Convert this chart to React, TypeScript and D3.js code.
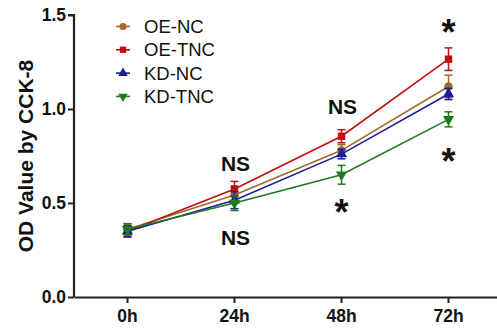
import React, { useEffect, useRef } from 'react';
import * as d3 from 'd3';

// chart values
const times = ['0h', '24h', '48h', '72h'];
const seriesNames = ['OE-NC', 'OE-TNC', 'KD-NC', 'KD-TNC'];
const oeNc = [0.36, 0.543, 0.78, 1.12];
const oeNcErr = [0.03, 0.04, 0.03, 0.06];
const oeTnc = [0.35, 0.575, 0.855, 1.265];
const oeTncErr = [0.03, 0.04, 0.035, 0.06];
const kdNc = [0.35, 0.515, 0.76, 1.08];
const kdNcErr = [0.03, 0.045, 0.025, 0.03];
const kdTnc = [0.36, 0.5, 0.65, 0.945];
const kdTncErr = [0.03, 0.04, 0.05, 0.04];
const yTicks = [0, 0.5, 1.0, 1.5];
const notes = [
  { time: '24h', value: 0.709, text: 'NS' },
  { time: '24h', value: 0.316, text: 'NS' },
  { time: '48h', value: 1.012, text: 'NS' },
  { time: '48h', value: 0.487, text: '*' },
  { time: '72h', value: 1.449, text: '*' },
  { time: '72h', value: 0.763, text: '*' },
];

const colors = ['#A3692A', '#BE1010', '#1C1C9C', '#1F7A1F'];
const shapes = [d3.symbolCircle, d3.symbolSquare, d3.symbolTriangle, d3.symbolTriangle];

const W = 497;
const H = 331;
const margin = { top: 15, right: -5, bottom: 34, left: 74 };
const font = '"Liberation Sans", Arial, sans-serif';

export default function App() {
  const ref = useRef<SVGSVGElement>(null);

  useEffect(() => {
    const svg = d3.select(ref.current);
    svg.selectAll('*').remove();

    const x = d3
      .scaleBand()
      .domain(times)
      .range([margin.left, W - margin.right]);
    const y = d3
      .scaleLinear()
      .domain([0, 1.5])
      .range([H - margin.bottom, margin.top]);
    const cx = (t: string) => (x(t) as number) + x.bandwidth() / 2;

    const values = [oeNc, oeTnc, kdNc, kdTnc];
    const errs = [oeNcErr, oeTncErr, kdNcErr, kdTncErr];

    // series: line, error bars, markers
    values.forEach((vals, si) => {
      const g = svg.append('g');
      const line = d3
        .line<number>()
        .x((_, i) => cx(times[i]))
        .y(d => y(d));
      g.append('path')
        .attr('d', line(vals))
        .attr('fill', 'none')
        .attr('stroke', colors[si])
        .attr('stroke-width', 1.6);

      vals.forEach((v, i) => {
        const px = cx(times[i]);
        const e = errs[si][i];
        g.append('line')
          .attr('x1', px).attr('x2', px)
          .attr('y1', y(v - e)).attr('y2', y(v + e))
          .attr('stroke', colors[si]).attr('stroke-width', 1.5);
        [v - e, v + e].forEach(c => {
          g.append('line')
            .attr('x1', px - 4).attr('x2', px + 4)
            .attr('y1', y(c)).attr('y2', y(c))
            .attr('stroke', colors[si]).attr('stroke-width', 1.5);
        });
        g.append('path')
          .attr('d', d3.symbol(shapes[si], 55)())
          .attr('transform', `translate(${px},${y(v)})${si === 3 ? ' rotate(180)' : ''}`)
          .attr('fill', colors[si]);
      });
    });

    // axes
    const yAxis = svg
      .append('g')
      .attr('transform', `translate(${margin.left},0)`)
      .call(d3.axisLeft(y).tickValues(yTicks).tickSize(6).tickFormat(d3.format('.1f')));
    const xAxis = svg
      .append('g')
      .attr('transform', `translate(0,${H - margin.bottom})`)
      .call(d3.axisBottom(x).tickSize(6).tickSizeOuter(0));
    [xAxis, yAxis].forEach(a => {
      a.select('.domain').attr('stroke', '#222').attr('stroke-width', 2.2);
      a.selectAll('.tick line').attr('stroke', '#222').attr('stroke-width', 2);
      a.selectAll('.tick text')
        .attr('fill', '#111')
        .style('font-family', font)
        .style('font-weight', 'bold')
        .style('font-size', '17.5px');
    });
    yAxis.select('.domain').attr('d', `M-6,${y(1.5)}H0V${y(0)}`);
    yAxis.selectAll('.tick text').attr('x', -8);
    xAxis.selectAll('.tick text').attr('y', 13);

    svg.append('text')
      .attr('transform', `translate(33,${(y(0) + y(1.5)) / 2}) rotate(-90)`)
      .attr('text-anchor', 'middle')
      .attr('fill', '#111')
      .style('font-family', font)
      .style('font-weight', 'bold')
      .style('font-size', '21px')
      .text('OD Value by CCK-8');

    // legend
    seriesNames.forEach((name, i) => {
      const ly = 26.5 + i * 23.3;
      const lg = svg.append('g').attr('transform', `translate(123,${ly})`);
      lg.append('line').attr('x1', -7).attr('x2', 7).attr('stroke', colors[i]).attr('stroke-width', 1.6);
      lg.append('path')
        .attr('d', d3.symbol(shapes[i], 40)())
        .attr('transform', i === 3 ? 'rotate(180)' : null)
        .attr('fill', colors[i]);
      lg.append('text')
        .attr('x', 21)
        .attr('y', 6.5)
        .attr('fill', '#111')
        .style('font-family', font)
        .style('font-size', '18.5px')
        .text(name);
    });

    // significance labels
    notes.forEach(n => {
      const star = n.text === '*';
      svg.append('text')
        .attr('x', cx(n.time) + (star ? 0 : 1))
        .attr('y', y(n.value) + (star ? 20 : 7.5))
        .attr('text-anchor', 'middle')
        .attr('fill', '#111')
        .style('font-family', font)
        .style('font-weight', 'bold')
        .style('font-size', star ? '36px' : '21px')
        .text(n.text);
    });
  }, []);

  return (
    <svg
      ref={ref}
      width={W}
      height={H}
      style={{ position: 'absolute', left: 0, top: 0, background: '#fff' }}
    />
  );
}
